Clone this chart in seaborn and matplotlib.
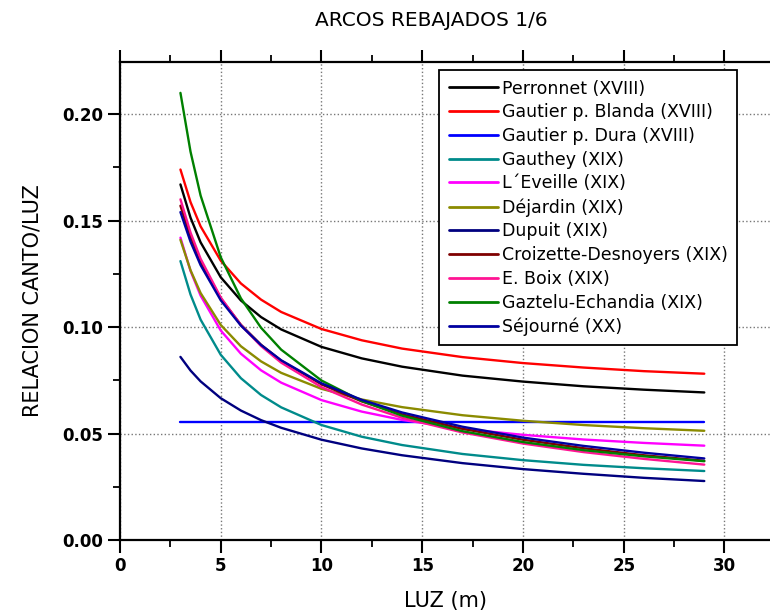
import matplotlib
matplotlib.use("Agg")
import matplotlib.pyplot as plt
import seaborn as sns
import pandas as pd
from matplotlib.ticker import MultipleLocator

luz = [3, 3.5, 4, 5, 6, 7, 8, 10, 12, 14, 17, 20, 23, 26, 29]

perronnet = [0.167, 0.1514, 0.1398, 0.1234, 0.1125, 0.1047, 0.0989, 0.0907, 0.0853, 0.0814, 0.0772, 0.0744, 0.0722, 0.0706, 0.0693]
gautier_blanda = [0.174, 0.1587, 0.1473, 0.1312, 0.1205, 0.1129, 0.1071, 0.0991, 0.0938, 0.0899, 0.0859, 0.0831, 0.0810, 0.0793, 0.0781]
gautier_dura = [0.0555] * 15
gauthey = [0.131, 0.1153, 0.1035, 0.087, 0.076, 0.0681, 0.0623, 0.054, 0.0485, 0.0446, 0.0404, 0.0375, 0.0353, 0.0337, 0.0324]
leveille = [0.142, 0.1264, 0.1148, 0.0984, 0.0875, 0.0797, 0.0739, 0.0657, 0.0603, 0.0564, 0.0522, 0.0494, 0.0472, 0.0456, 0.0443]
dejardin = [0.141, 0.1267, 0.116, 0.101, 0.091, 0.0839, 0.0785, 0.071, 0.066, 0.0624, 0.0586, 0.056, 0.054, 0.0525, 0.0513]
dupuit = [0.086, 0.0796, 0.0745, 0.0666, 0.0608, 0.0563, 0.0527, 0.0471, 0.043, 0.0398, 0.0361, 0.0333, 0.0311, 0.0292, 0.0277]
croizette = [0.157, 0.1424, 0.1308, 0.1135, 0.1011, 0.0917, 0.0842, 0.0731, 0.0651, 0.059, 0.0522, 0.0471, 0.0431, 0.0398, 0.0372]
boix = [0.160, 0.1444, 0.1321, 0.1139, 0.1009, 0.0911, 0.0833, 0.0718, 0.0636, 0.0574, 0.0505, 0.0453, 0.0413, 0.0381, 0.0354]
gaztelu = [0.210, 0.1824, 0.1618, 0.1328, 0.1135, 0.0997, 0.0894, 0.0749, 0.0653, 0.0584, 0.0511, 0.046, 0.0422, 0.0393, 0.037]
sejourne = [0.154, 0.1401, 0.1291, 0.1126, 0.1007, 0.0916, 0.0844, 0.0736, 0.0658, 0.0599, 0.0532, 0.0481, 0.0442, 0.041, 0.0383]

names = ["Perronnet (XVIII)", "Gautier p. Blanda (XVIII)", "Gautier p. Dura (XVIII)",
         "Gauthey (XIX)", "L\u00b4Eveille (XIX)", "Déjardin (XIX)", "Dupuit (XIX)",
         "Croizette-Desnoyers (XIX)", "E. Boix (XIX)", "Gaztelu-Echandia (XIX)", "Séjourné (XX)"]
series = [perronnet, gautier_blanda, gautier_dura, gauthey, leveille, dejardin, dupuit,
          croizette, boix, gaztelu, sejourne]
colors = ["#000000", "#ff0000", "#0000ff", "#008b8b", "#ff00ff", "#8b8b00", "#00007f",
          "#7f0000", "#ff1493", "#008000", "#0000a0"]

rows = []
for n, s in zip(names, series):
    for x, y in zip(luz, s):
        rows.append({"luz": x, "rel": y, "autor": n})
df = pd.DataFrame(rows)

sns.set_theme(style="white")
plt.rcParams['font.family'] = ['DejaVu Sans']
plt.rcParams['text.color'] = 'black'
plt.rcParams['axes.labelcolor'] = 'black'
plt.rcParams['xtick.color'] = 'black'
plt.rcParams['ytick.color'] = 'black'

fig = plt.figure(figsize=(7.7, 6.11), dpi=100)
ax = fig.add_axes([120/770, 1-540/611, 1-120/770+0.001, (540-62)/611])

sns.lineplot(data=df, x="luz", y="rel", hue="autor", hue_order=names,
             palette=dict(zip(names, colors)), linewidth=1.7, ax=ax, sort=False)

ax.set_xlim(0, 32.3)
ax.set_ylim(0, 0.2245)
ax.xaxis.set_major_locator(MultipleLocator(5))
ax.xaxis.set_minor_locator(MultipleLocator(2.5))
ax.yaxis.set_major_locator(MultipleLocator(0.05))
ax.yaxis.set_minor_locator(MultipleLocator(0.025))
ax.yaxis.set_major_formatter(matplotlib.ticker.FormatStrFormatter('%.2f'))
ax.grid(True, which='major', linestyle=':', color='#777777', linewidth=1.0)

for sp in ['left', 'bottom', 'top']:
    ax.spines[sp].set_linewidth(1.6)
    ax.spines[sp].set_color('black')
ax.spines['right'].set_visible(False)

ax.tick_params(axis='both', which='major', direction='out', length=9, width=1.5,
               labelsize=12, colors='black', top=True, bottom=True, left=True, pad=3)
ax.tick_params(axis='both', which='minor', direction='out', length=5, width=1.3,
               top=True, bottom=True, left=True)
for lab in ax.get_xticklabels() + ax.get_yticklabels():
    lab.set_fontweight('bold')

ax.set_xlabel("LUZ (m)", fontsize=15, labelpad=12)
ax.set_ylabel("RELACION CANTO/LUZ", fontsize=15, labelpad=14)

leg = ax.legend(loc='upper left', bbox_to_anchor=((439-120)/650, (540-70)/478),
                borderaxespad=0, fontsize=12.5, handlelength=2.8, labelspacing=0.33,
                frameon=True, fancybox=False, edgecolor='black', borderpad=0.55,
                handletextpad=0.25)
leg.get_frame().set_linewidth(1.3)
leg.get_frame().set_alpha(1)
for h in leg.get_lines():
    h.set_linewidth(2)
for t in leg.get_texts():
    t.set_color('black')

fig.text(431/770, 1-21/611, "ARCOS REBAJADOS 1/6", ha='center', va='center', fontsize=14.5)

fig.savefig("out.png", dpi=100)
